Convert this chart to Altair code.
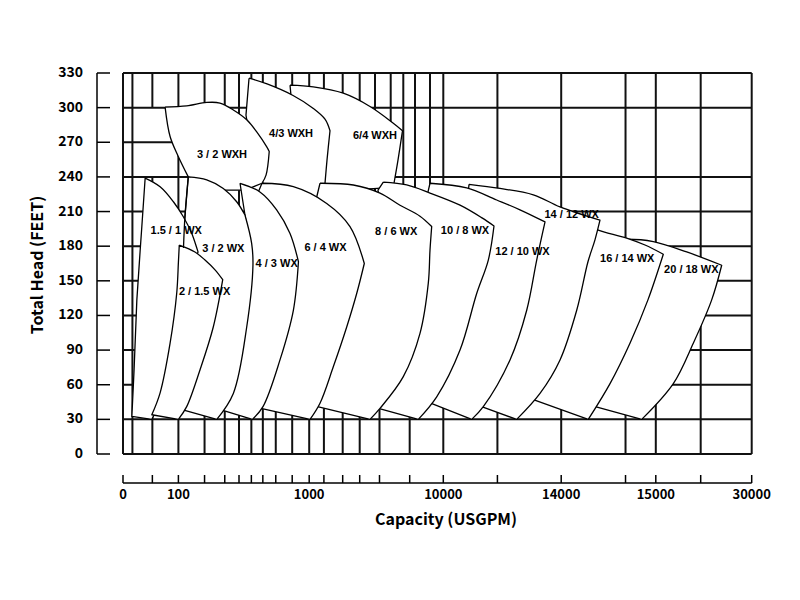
import altair as alt
import pandas as pd

# ---------------- axis values ----------------
CAP_BREAKS = [0, 100, 1000, 10000, 14000, 15000, 30000]          # labelled capacity values (USGPM)
CAP_LABELS = ["0", "100", "1000", "10000", "14000", "15000", "30000"]
CAP_TICKS = [0, 53, 100, 280, 419, 517, 602, 681, 770, 883, 1000, 1987, 3248,
             4389, 5718, 7744, 10000, 11836, 14000, 14680, 15000, 22022, 30000]
HEAD_TICKS = [0, 30, 60, 90, 120, 150, 180, 210, 240, 270, 300, 330]

# ---------------- grid lines ----------------
GRID_V_FULL = [0, 17, 100, 280, 419, 517, 602, 681, 770, 883, 1000, 1987, 3248,
               4389, 10000, 11836, 14000, 14680, 15000, 22022, 30000]
GRID_V_LOW = [5718, 7744]                       # lower part only
GRID_V_HIGH = [5416, 6470, 7315, 8100, 9107]    # upper part only
GRID_V_SPLIT = [53]                             # gap between 240 and 300 ft
GRID_H_FULL = [0, 30, 60, 90, 120, 150, 180, 210, 240, 300, 330]
GRID_H_SHORT = [270]                            # left part only

# ---------------- pump coverage areas (capacity USGPM, head ft) ----------------
wxh64_q = [868, 1275, 3288, 5080, 6644, 7261, 6959, 6691, 6087, 3738, 1859, 1591, 937, 875]
wxh64_h = [319.5, 318, 312.5, 301, 286.5, 280, 254.5, 234.5, 230.5, 228.5, 232, 263.5, 303, 310]
wxh43_q = [586, 710, 889, 1255, 2060, 2396, 2195, 2060, 1859, 1591, 717, 593, 565]
wxh43_h = [325.5, 320.5, 310.5, 299.5, 290, 280, 254.5, 234.5, 228.7, 215.7, 220, 272, 293.5]
wxh32_q = [76, 157, 295, 386, 478, 570, 639, 708, 725, 703, 675, 558, 352, 168, 100, 85]
wxh32_h = [300.5, 301.5, 304.5, 304, 298, 289.5, 279, 266, 262, 241.5, 234.5, 228.5, 228.5, 240, 257.5, 275]

wx2018_q = [14622, 14692, 14974, 19833, 25307, 23743, 20865, 17737, 14851, 14360, 14727]
wx2018_h = [185.5, 186, 184, 175, 163.5, 133.5, 96, 61, 30, 41, 133.5]
wx1614_q = [14304, 14392, 14692, 14886, 16173, 14917, 14727, 14516, 14286, 13054, 13960]
wx1614_h = [197.5, 194, 187, 181, 173, 133.5, 96, 61, 30, 47, 133.5]
wx1412_q = [10872, 11924, 13054, 13960, 14410, 14357, 14283, 14164, 13960, 13281, 12490, 11300, 11924, 10838]
wx1412_h = [233.5, 230, 224.5, 214, 202.5, 185.5, 166.5, 124.5, 81.5, 52.5, 30, 41, 133.5, 224.5]
wx1210_q = [9107, 10794, 11812, 12602, 13451, 13169, 12830, 12263, 11357, 10964, 9150, 10227, 8973]
wx1210_h = [234.5, 230.5, 220, 211.5, 201, 168, 124.5, 81.5, 41, 30, 44, 133.5, 227]
wx108_q = [5973, 7543, 9107, 10567, 11313, 11720, 11527, 11133, 10567, 9557, 8322, 5650, 6758, 5617]
wx108_h = [235.5, 233, 226, 215.5, 204.5, 197.5, 168, 139, 90, 49.5, 30, 39.5, 133.5, 228.5]
wx86_q = [1725, 3960, 5751, 7094, 8436, 9221, 9107, 8993, 8436, 7315, 5751, 5080, 1560, 2396, 1456]
wx86_h = [234.5, 233, 226, 215.5, 206, 197, 176.5, 148, 104.5, 67, 39.5, 30, 41, 133.5, 220]
wx64_q = [675, 891, 2174, 3738, 4698, 4188, 3517, 2617, 1725, 1054, 668, 675, 627]
wx64_h = [234.5, 231.5, 217, 197, 165, 139, 110, 75.5, 44, 30, 39.5, 133.5, 220]
wx43_q = [524, 661, 776, 868, 926, 891, 799, 682, 609, 400, 470, 550, 595, 585, 558]
wx43_h = [234.5, 227, 211.5, 191, 166.5, 124.5, 81.5, 41, 30, 38, 56, 112, 165, 185, 207]
wx32_q = [168, 295, 409, 501, 558, 604, 613, 570, 478, 364, 76, 85, 118, 145]
wx32_h = [240, 237.5, 230, 218.5, 207, 182.5, 163.5, 110, 52.5, 30, 42.5, 107.5, 172.5, 205.5]
wx151_q = [40, 67, 91, 134, 192, 235, 145, 94, 70, 52, 16, 20, 25, 31, 34]
wx151_h = [239, 231.5, 218.5, 205.5, 191, 175, 142, 90, 47, 30, 32.5, 73, 133.5, 176.5, 197]
wx2015_q = [106, 214, 283, 352, 405, 340, 249, 157, 100, 52, 67, 85, 97, 100]
wx2015_h = [181, 175, 168, 159.5, 151, 110, 73, 41, 30, 34, 53, 96, 139.5, 166]

# left edge of 3/2 WX, which stays visible where it crosses 1.5/1 WX
wx32_edge_q = [168, 145, 135]
wx32_edge_h = [240, 205.5, 178.5]

# drawing order (back to front) and the sharp corners of each outline
SHAPES = [
    ("6/4 WXH", wxh64_q, wxh64_h, [0, 5, 7, 8, 9, 10, 11, 12, 13]),
    ("4/3 WXH", wxh43_q, wxh43_h, [0, 5, 7, 8, 9, 10, 11, 12]),
    ("3/2 WXH", wxh32_q, wxh32_h, [0, 8, 10, 11, 12, 13]),
    ("20/18 WX", wx2018_q, wx2018_h, [0, 4, 8, 9, 10]),
    ("16/14 WX", wx1614_q, wx1614_h, [0, 4, 8, 9, 10]),
    ("14/12 WX", wx1412_q, wx1412_h, [0, 4, 10, 11, 12, 13]),
    ("12/10 WX", wx1210_q, wx1210_h, [0, 4, 9, 10, 11, 12]),
    ("10/8 WX", wx108_q, wx108_h, [0, 5, 10, 11, 12, 13]),
    ("8/6 WX", wx86_q, wx86_h, [0, 5, 11, 12, 13, 14]),
    ("6/4 WX", wx64_q, wx64_h, [0, 4, 9, 10, 11, 12]),
    ("4/3 WX", wx43_q, wx43_h, [0, 4, 8, 9, 10, 11, 12, 13, 14]),
    ("3/2 WX", wx32_q, wx32_h, [0, 4, 9, 10, 11, 12, 13]),
    ("1.5/1 WX", wx151_q, wx151_h, [0, 5, 6, 7, 8, 9, 10, 11, 12, 13, 14]),
    ("2/1.5 WX", wx2015_q, wx2015_h, [0, 4, 8, 9]),
]

LABEL_TEXT = ["3 / 2 WXH", "4/3 WXH", "6/4 WXH", "1.5 / 1 WX", "3 / 2 WX", "2 / 1.5 WX", "4 / 3 WX",
              "6 / 4 WX", "8 / 6 WX", "10 / 8 WX", "12 / 10 WX", "14 / 12 WX", "16 / 14 WX", "20 / 18 WX"]
LABEL_Q = [400, 875, 5416, 96, 409, 280, 776, 2094, 6839, 10736, 12687, 14111, 14698, 20552]
LABEL_H = [259, 277, 275.5, 193.5, 177.5, 140.5, 165, 178, 192, 193, 175, 207, 169, 159.5]

# ---------------- build tables ----------------
rows = []
for name, qs, hs, corners in SHAPES:
    pts = []
    for j, (q, h) in enumerate(zip(qs, hs)):
        reps = 2 if j in corners else 1      # repeated vertex keeps the corner sharp
        pts.extend([(q, h)] * reps)
    pts.append((qs[0], hs[0]))               # close the outline
    for k, (q, h) in enumerate(pts):
        rows.append({"shape": name, "i": k, "q": q, "h": h})
shape_df = pd.DataFrame(rows)
edge_df = pd.DataFrame({"i": list(range(len(wx32_edge_q))), "q": wx32_edge_q, "h": wx32_edge_h})

seg = []
for v in GRID_V_FULL:
    seg.append({"x": v, "x2": v, "y": 0, "y2": 330})
for v in GRID_V_LOW:
    seg.append({"x": v, "x2": v, "y": 0, "y2": 230})
for v in GRID_V_HIGH:
    seg.append({"x": v, "x2": v, "y": 200, "y2": 330})
for v in GRID_V_SPLIT:
    seg.append({"x": v, "x2": v, "y": 0, "y2": 240})
    seg.append({"x": v, "x2": v, "y": 300, "y2": 330})
for v in GRID_H_FULL:
    seg.append({"x": 0, "x2": 30000, "y": v, "y2": v})
for v in GRID_H_SHORT:
    seg.append({"x": 0, "x2": 100, "y": v, "y2": v})
grid_df = pd.DataFrame(seg)

label_df = pd.DataFrame({"label": LABEL_TEXT, "q": LABEL_Q, "h": LABEL_H})
ytick_df = pd.DataFrame({"v": HEAD_TICKS, "lab": [str(v) for v in HEAD_TICKS]})
xtick_df = pd.DataFrame({"v": CAP_TICKS})
xlab_df = pd.DataFrame({"v": CAP_BREAKS, "lab": CAP_LABELS})

W, H = 629, 381
xscale = alt.Scale(domain=CAP_BREAKS, range=[0, 55.4, 186.2, 320.3, 438.2, 532.8, 628.7])
yscale = alt.Scale(domain=[0, 330], nice=False, zero=False)

AX_FONT = "Noto Sans CJK SC"

layers = []
layers.append(
    alt.Chart(grid_df).mark_rule(color="#111111", strokeWidth=2).encode(
        x=alt.X("x:Q", scale=xscale, axis=None), x2="x2:Q",
        y=alt.Y("y:Q", scale=yscale, axis=None), y2="y2:Q")
)
for name, _, _, _ in SHAPES:
    layers.append(
        alt.Chart(shape_df).transform_filter(alt.datum.shape == name).mark_line(
            interpolate="catmull-rom", fill="white", stroke="black",
            strokeWidth=1.3, strokeJoin="round"
        ).encode(
            x=alt.X("q:Q", scale=xscale, axis=None),
            y=alt.Y("h:Q", scale=yscale, axis=None),
            order=alt.Order("i:Q"))
    )
layers.append(
    alt.Chart(edge_df).mark_line(interpolate="catmull-rom", color="black", strokeWidth=1.3).encode(
        x=alt.X("q:Q", scale=xscale, axis=None),
        y=alt.Y("h:Q", scale=yscale, axis=None),
        order=alt.Order("i:Q"))
)
layers.append(
    alt.Chart(label_df).mark_text(font="Liberation Sans", fontWeight="bold", fontSize=11, color="black").encode(
        x=alt.X("q:Q", scale=xscale, axis=None), y=alt.Y("h:Q", scale=yscale, axis=None), text="label:N")
)
# y axis bracket
layers.append(
    alt.Chart(pd.DataFrame({"a": [0], "b": [330]})).mark_rule(color="black", strokeWidth=1.5).encode(
        x=alt.value(-26), y=alt.Y("a:Q", scale=yscale, axis=None), y2="b:Q")
)
layers.append(
    alt.Chart(ytick_df).mark_rule(color="black", strokeWidth=1.5).encode(
        x=alt.value(-26), x2=alt.value(-13), y=alt.Y("v:Q", scale=yscale, axis=None))
)
layers.append(
    alt.Chart(ytick_df).mark_text(font=AX_FONT, fontWeight="bold", fontSize=14, align="right",
                                  baseline="middle", color="black").encode(
        x=alt.value(-40), y=alt.Y("v:Q", scale=yscale, axis=None), text="lab:N")
)
# x axis bracket
layers.append(
    alt.Chart(pd.DataFrame({"a": [0], "b": [30000]})).mark_rule(color="black", strokeWidth=1.5).encode(
        x=alt.X("a:Q", scale=xscale, axis=None), x2="b:Q", y=alt.value(410))
)
layers.append(
    alt.Chart(xtick_df).mark_rule(color="black", strokeWidth=1.5).encode(
        x=alt.X("v:Q", scale=xscale, axis=None), y=alt.value(402), y2=alt.value(410))
)
layers.append(
    alt.Chart(xlab_df).mark_text(font=AX_FONT, fontWeight="bold", fontSize=13, baseline="middle",
                                 color="black").encode(
        x=alt.X("v:Q", scale=xscale, axis=None), y=alt.value(422), text="lab:N")
)
layers.append(
    alt.Chart(pd.DataFrame({"t": ["Capacity (USGPM)"]})).mark_text(
        font=AX_FONT, fontWeight="bold", fontSize=16, color="black", baseline="middle").encode(
        x=alt.value(323), y=alt.value(447), text="t:N")
)
layers.append(
    alt.Chart(pd.DataFrame({"t": ["Total Head (FEET)"]})).mark_text(
        font=AX_FONT, fontWeight="bold", fontSize=16, color="black", angle=270, baseline="middle").encode(
        x=alt.value(-85), y=alt.value(192), text="t:N")
)

chart = alt.layer(*layers).properties(
    width=W, height=H,
    autosize=alt.AutoSizeParams(type="none"),
    padding={"left": 123, "top": 73, "right": 48, "bottom": 146},
).configure_view(stroke=None)

chart.save("out.html", embed_options={"renderer": "svg", "actions": False})
